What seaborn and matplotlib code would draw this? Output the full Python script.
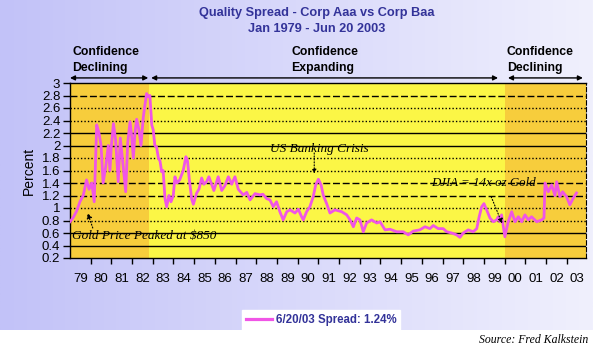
import numpy as np
import matplotlib
matplotlib.use("Agg")
import matplotlib.pyplot as plt
import seaborn as sns

# ---------------- data ----------------
years = [1979.0, 1979.16, 1979.32, 1979.48, 1979.64, 1979.8, 1979.92, 1980.05, 1980.17, 1980.29,
         1980.4, 1980.5, 1980.6, 1980.72, 1980.85, 1980.93, 1981.0, 1981.1, 1981.2, 1981.33,
         1981.43, 1981.53, 1981.69, 1981.79, 1981.9, 1981.98, 1982.06, 1982.14, 1982.22, 1982.33,
         1982.43, 1982.54, 1982.62, 1982.7, 1982.78, 1982.86, 1982.95, 1983.02, 1983.1, 1983.18,
         1983.27, 1983.35, 1983.43, 1983.5, 1983.59, 1983.67, 1983.78, 1983.88, 1983.99, 1984.07,
         1984.17, 1984.3, 1984.47, 1984.6, 1984.68, 1984.76, 1984.88, 1984.96, 1985.12, 1985.23,
         1985.36, 1985.47, 1985.6, 1985.71, 1985.84, 1985.95, 1986.16, 1986.33, 1986.49, 1986.65,
         1986.81, 1986.97, 1987.13, 1987.37, 1987.54, 1987.7, 1987.94, 1988.18, 1988.32, 1988.5,
         1988.66, 1988.82, 1988.98, 1989.14, 1989.3, 1989.47, 1989.63, 1989.87, 1990.03, 1990.19,
         1990.27, 1990.43, 1990.59, 1990.75, 1990.87, 1991.0, 1991.13, 1991.24, 1991.4, 1991.56,
         1991.8, 1992.13, 1992.37, 1992.53, 1992.69, 1992.85, 1993.01, 1993.17, 1993.33, 1993.57,
         1993.82, 1993.98, 1994.22, 1994.46, 1994.78, 1995.1, 1995.34, 1995.58, 1995.9, 1996.15,
         1996.39, 1996.55, 1996.79, 1997.03, 1997.2, 1997.44, 1997.68, 1997.84, 1998.0, 1998.24,
         1998.48, 1998.65, 1998.77, 1998.89, 1999.0, 1999.13, 1999.29, 1999.45, 1999.61, 1999.69,
         1999.77, 1999.85, 2000.01, 2000.17, 2000.34, 2000.5, 2000.66, 2000.82, 2000.98, 2001.14,
         2001.3, 2001.55, 2001.79, 2001.9, 2001.95, 2002.11, 2002.27, 2002.43, 2002.51, 2002.67,
         2002.8, 2002.99, 2003.15, 2003.3, 2003.47]
spread = [0.78, 0.85, 0.95, 1.10, 1.20, 1.45, 1.30, 1.40, 1.10, 2.33,
          2.20, 2.00, 1.40, 1.65, 2.00, 1.60, 2.00, 2.35, 2.10, 1.42,
          2.12, 1.80, 1.26, 2.05, 2.38, 2.15, 1.80, 2.20, 2.42, 2.25,
          2.00, 2.45, 2.65, 2.83, 2.78, 2.80, 2.33, 2.25, 2.00, 1.98,
          1.80, 1.75, 1.58, 1.60, 1.15, 1.02, 1.20, 1.10, 1.20, 1.50,
          1.40, 1.45, 1.60, 1.82, 1.75, 1.47, 1.14, 1.06, 1.24, 1.30,
          1.48, 1.38, 1.42, 1.50, 1.38, 1.28, 1.50, 1.28, 1.36, 1.50,
          1.38, 1.50, 1.30, 1.21, 1.25, 1.13, 1.23, 1.21, 1.22, 1.15,
          1.13, 1.02, 1.10, 0.94, 0.81, 0.94, 0.97, 0.92, 0.98, 0.86,
          0.81, 0.94, 1.02, 1.18, 1.37, 1.46, 1.37, 1.20, 1.07, 0.92,
          0.97, 0.94, 0.89, 0.81, 0.70, 0.84, 0.81, 0.62, 0.76, 0.81,
          0.76, 0.78, 0.65, 0.66, 0.62, 0.62, 0.57, 0.63, 0.65, 0.70,
          0.67, 0.72, 0.67, 0.67, 0.62, 0.60, 0.57, 0.53, 0.60, 0.65,
          0.62, 0.67, 0.86, 1.02, 1.07, 0.97, 0.84, 0.78, 0.81, 0.86,
          0.78, 0.89, 0.54, 0.78, 0.94, 0.78, 0.86, 0.78, 0.89, 0.81,
          0.86, 0.78, 0.81, 0.84, 1.40, 1.26, 1.37, 1.20, 1.42, 1.18,
          1.26, 1.18, 1.05, 1.15, 1.24]

year_labels = ["79", "80", "81", "82", "83", "84", "85", "86", "87", "88", "89", "90",
               "91", "92", "93", "94", "95", "96", "97", "98", "99", "00", "01", "02", "03"]
ytick_vals = [0.2, 0.4, 0.6, 0.8, 1.0, 1.2, 1.4, 1.6, 1.8, 2.0, 2.2, 2.4, 2.6, 2.8, 3.0]
ytick_labels = ["0.2", "0.4", "0.6", "0.8", "1", "1.2", "1.4", "1.6", "1.8", "2",
                "2.2", "2.4", "2.6", "2.8", "3"]
grid_vals = [2.8, 2.6, 2.4, 2.2, 2.0, 1.8, 1.6, 1.4, 1.2, 1.0, 0.8, 0.6, 0.4]
grid_styles = ["dashed", "dotted", "dotted", "solid", "solid", "dotted", "dotted",
               "dashed", "dashed", "dotted", "dotted", "solid", "solid"]
phase_spans = [(1979.0, 1982.8), (2000.0, 2003.93)]
phase_arrows = [(1979.0, 1982.78), (1982.92, 1999.68), (2000.16, 2003.78)]
phase_texts = ["Confidence\nDeclining", "Confidence\nExpanding", "Confidence\nDeclining"]
phase_text_x = [1979.1, 1989.68, 2000.1]

title1 = "Quality Spread - Corp Aaa vs Corp Baa"
title2 = "Jan 1979 - Jun 20 2003"
legend_label = "6/20/03 Spread: 1.24%"

# ---------------- figure ----------------
W, H = 593, 348
fig = plt.figure(figsize=(W / 100, H / 100), dpi=100)
fig.patch.set_facecolor("white")

# gradient background
bg = fig.add_axes([0, 1 - 330 / H, 1, 330 / H], zorder=-10)
grad = np.linspace(0, 1, 256)
c0 = np.array([194, 194, 248]) / 255
c1 = np.array([240, 240, 253]) / 255
img = (c0[None, :] * (1 - grad[:, None]) + c1[None, :] * grad[:, None])[None, :, :]
bg.imshow(img, aspect="auto", extent=[0, 1, 0, 1])
bg.set_axis_off()

L, R, T, B = 70, 586, 83, 258
ax = fig.add_axes([L / W, 1 - B / H, (R - L) / W, (B - T) / H])
ax.set_facecolor("#fbf646")
ax.set_xlim(1979.0, 2003.93)
ax.set_ylim(0.2, 3.0)

for (a, b) in phase_spans:
    ax.axvspan(a, b, color="#f7cd3c", zorder=0, lw=0)

for v, s in zip(grid_vals, grid_styles):
    ls = {"dashed": (0, (5, 2)), "dotted": (0, (1, 1.5)), "solid": "-"}[s]
    ax.axhline(v, color="black", lw=1.0, ls=ls, zorder=1)

sns.lineplot(x=years, y=spread, ax=ax, color="#f055e6", lw=2.0,
             label=legend_label, zorder=3, legend=False)

# spines
for sp in ["top", "bottom", "left"]:
    ax.spines[sp].set_color("black")
    ax.spines[sp].set_linewidth(1)
ax.spines["right"].set_linestyle((0, (4, 2)))
ax.spines["right"].set_color("black")

fsans = "Liberation Sans"
ax.set_yticks(ytick_vals)
ax.set_yticklabels(ytick_labels, fontsize=9.5, family=fsans)
ax.tick_params(axis="y", length=5, width=1, pad=2)
ax.set_xticks(list(range(1980, 2004)))
ax.set_xticklabels([])
ax.set_xticks([1979.5 + i for i in range(len(year_labels))], minor=True)
ax.set_xticklabels(year_labels, minor=True, fontsize=9.5, family=fsans)
ax.tick_params(axis="x", which="major", length=4, width=1)
ax.tick_params(axis="x", which="minor", length=0, pad=11)
ax.set_ylabel("Percent", fontsize=10, family=fsans, labelpad=4)

# phase arrows and labels
for (a, b) in phase_arrows:
    ax.annotate("", xy=(a, 1.029), xytext=(b, 1.029),
                xycoords=("data", "axes fraction"), textcoords=("data", "axes fraction"),
                arrowprops=dict(arrowstyle="<|-|>", color="black", lw=1,
                                mutation_scale=7, shrinkA=0, shrinkB=0),
                annotation_clip=False)
for t, x in zip(phase_texts, phase_text_x):
    ax.text(x, 1.05, t, transform=ax.get_xaxis_transform(), ha="left", va="bottom",
            fontsize=8.8, fontweight="bold", family=fsans, linespacing=1.45, clip_on=False)

# annotations
fser = "Liberation Serif"
ax.text(1979.1, 0.55, "Gold Price Peaked at $850", fontsize=9.5, style="italic",
        family=fser, ha="left", va="center", zorder=4)
ax.annotate("", xy=(1979.85, 0.92), xytext=(1980.1, 0.68),
            arrowprops=dict(arrowstyle="-|>", color="black", lw=0.8, ls=":",
                            mutation_scale=8, shrinkA=0, shrinkB=0), zorder=4)
ax.text(1991.05, 1.95, "US Banking Crisis", fontsize=9.5, style="italic",
        family=fser, ha="center", va="center", zorder=4)
ax.annotate("", xy=(1990.8, 1.55), xytext=(1990.8, 1.88),
            arrowprops=dict(arrowstyle="-|>", color="black", lw=0.8, ls=":",
                            mutation_scale=6, shrinkA=0, shrinkB=0), zorder=4)
ax.text(1999.0, 1.40, "DJIA = 14x oz Gold", fontsize=9.3, style="italic",
        family=fser, ha="center", va="center", zorder=4)
ax.annotate("", xy=(1999.88, 0.75), xytext=(1999.35, 1.18),
            arrowprops=dict(arrowstyle="-|>", color="black", lw=0.8, ls=":",
                            mutation_scale=7, shrinkA=0, shrinkB=0), zorder=4)

# titles
tcol = "#333399"
fig.text(317 / W, 1 - 13 / H, title1, ha="center", va="center", fontsize=9.2,
         fontweight="bold", color=tcol, family=fsans)
fig.text(317 / W, 1 - 29 / H, title2, ha="center", va="center", fontsize=9.2,
         fontweight="bold", color=tcol, family=fsans)

# legend
handles, labels = ax.get_legend_handles_labels()
leg = fig.legend(handles, labels, loc="center", bbox_to_anchor=(321 / W, 1 - 320 / H),
                 frameon=True, fancybox=False, framealpha=1, edgecolor="white",
                 facecolor="white", handlelength=2.3, handletextpad=0.3,
                 borderpad=0.35, prop=dict(family=fsans, weight="bold", size=8.3),
                 labelcolor=tcol)
for h in leg.get_lines():
    h.set_linewidth(2.3)

fig.text(588 / W, 1 - 340 / H, "Source: Fred Kalkstein", ha="right", va="center",
         fontsize=8.5, style="italic", family=fser)

fig.savefig("out.png", dpi=100)
